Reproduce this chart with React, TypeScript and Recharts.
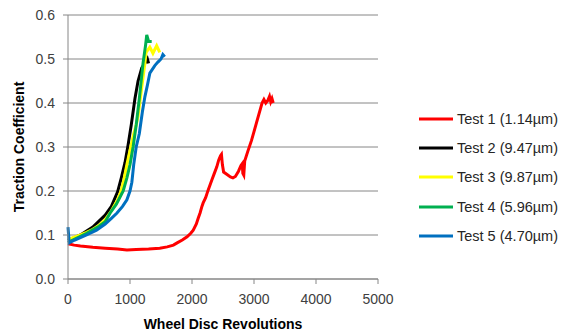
import React from 'react';
import { LineChart, Line, XAxis, YAxis, CartesianGrid, Label } from 'recharts';

const xTicks = [0, 1000, 2000, 3000, 4000, 5000];
const yTicks = [0, 0.1, 0.2, 0.3, 0.4, 0.5, 0.6];

const seriesNames = ['Test 1 (1.14µm)', 'Test 2 (9.47µm)', 'Test 3 (9.87µm)', 'Test 4 (5.96µm)', 'Test 5 (4.70µm)'];
const seriesColors = ['#FF0000', '#000000', '#FFFF00', '#00B050', '#0070C0'];

const test1Rev = [0, 100, 200, 400, 600, 800, 950, 1100, 1300, 1480, 1600, 1700, 1760, 1850, 1920, 1980, 2020, 2070, 2100, 2130, 2160, 2180, 2220, 2260, 2320, 2360, 2400, 2430, 2460, 2475, 2490, 2510, 2560, 2620, 2660, 2700, 2750, 2790, 2810, 2820, 2835, 2850, 2900, 2960, 3000, 3060, 3100, 3130, 3160, 3190, 3220, 3250, 3270, 3290, 3310];
const test1Tc = [0.08, 0.077, 0.075, 0.072, 0.07, 0.068, 0.066, 0.067, 0.068, 0.07, 0.073, 0.077, 0.082, 0.089, 0.096, 0.104, 0.111, 0.125, 0.138, 0.15, 0.165, 0.173, 0.185, 0.202, 0.225, 0.24, 0.255, 0.27, 0.28, 0.283, 0.26, 0.243, 0.238, 0.232, 0.23, 0.233, 0.245, 0.258, 0.262, 0.24, 0.236, 0.268, 0.29, 0.315, 0.335, 0.365, 0.385, 0.4, 0.408, 0.4, 0.405, 0.415, 0.403, 0.41, 0.4];

const test2Rev = [0, 200, 400, 600, 700, 800, 860, 920, 970, 1020, 1080, 1130, 1190, 1240, 1280, 1300];
const test2Tc = [0.088, 0.1, 0.118, 0.145, 0.165, 0.198, 0.23, 0.265, 0.305, 0.35, 0.41, 0.45, 0.48, 0.49, 0.5, 0.49];

const test3Rev = [0, 100, 200, 300, 400, 500, 600, 700, 800, 855, 900, 950, 1011, 1060, 1100, 1130, 1190, 1240, 1260, 1320, 1370, 1430, 1480];
const test3Tc = [0.09, 0.095, 0.1, 0.106, 0.113, 0.122, 0.135, 0.155, 0.18, 0.2, 0.225, 0.26, 0.3, 0.33, 0.35, 0.37, 0.436, 0.49, 0.515, 0.527, 0.513, 0.53, 0.515];

const test4Rev = [0, 100, 200, 300, 400, 500, 600, 680, 780, 890, 950, 1000, 1050, 1100, 1150, 1210, 1250, 1270, 1300, 1350];
const test4Tc = [0.083, 0.09, 0.097, 0.104, 0.112, 0.12, 0.13, 0.15, 0.17, 0.2, 0.23, 0.26, 0.3, 0.35, 0.41, 0.49, 0.53, 0.555, 0.54, 0.54];

const test5Rev = [0, 20, 100, 200, 300, 460, 600, 700, 790, 880, 950, 1000, 1030, 1060, 1100, 1150, 1200, 1240, 1280, 1320, 1400, 1450, 1500, 1530, 1560];
const test5Tc = [0.118, 0.082, 0.088, 0.094, 0.1, 0.111, 0.125, 0.138, 0.15, 0.165, 0.18, 0.2, 0.22, 0.26, 0.3, 0.33, 0.38, 0.414, 0.44, 0.468, 0.485, 0.493, 0.5, 0.51, 0.505];

const zip = (xs: number[], ys: number[]) => xs.map((x, i) => ({ x, y: ys[i] }));

const series = [
  zip(test1Rev, test1Tc),
  zip(test2Rev, test2Tc),
  zip(test3Rev, test3Tc),
  zip(test4Rev, test4Tc),
  zip(test5Rev, test5Tc),
];

const font = '"Liberation Sans", Arial, sans-serif';
const gray = '#868686';

// legend sits to the right of the plot, like the excel one
const LegendBox = () => (
  <div style={{ position: 'absolute', left: 419, top: 104, fontFamily: font, fontSize: 14.5, color: '#262626' }}>
    {seriesNames.map((name, i) => (
      <div key={name} style={{ height: 29.3, display: 'flex', alignItems: 'center' }}>
        <svg width={34} height={4} style={{ display: 'block' }}>
          <line x1={0} y1={2} x2={34} y2={2} stroke={seriesColors[i]} strokeWidth={3} />
        </svg>
        <span style={{ marginLeft: 4, whiteSpace: 'nowrap' }}>{name}</span>
      </div>
    ))}
  </div>
);

export default function App() {
  return (
    <div style={{ position: 'absolute', left: 0, top: 0, width: 562, height: 335, background: '#fff' }}>
      <LineChart width={562} height={335} margin={{ top: 15, right: 184, left: 0, bottom: 26 }}>
        <CartesianGrid vertical={false} stroke={gray} strokeWidth={1} />
        <XAxis
          type="number"
          dataKey="x"
          domain={[0, 5000]}
          ticks={xTicks}
          height={30}
          stroke={gray}
          tickSize={5}
          tickMargin={10}
          tick={{ fill: '#404040', fontSize: 14, fontFamily: font }}
          interval={0}
        >
          <Label
            value="Wheel Disc Revolutions"
            position="bottom"
            offset={10}
            style={{ fontWeight: 'bold', fontSize: 14, fontFamily: font, fill: '#000' }}
          />
        </XAxis>
        <YAxis
          type="number"
          dataKey="y"
          domain={[0, 0.6]}
          ticks={yTicks}
          width={68}
          stroke={gray}
          tickSize={5}
          tickMargin={8}
          tickFormatter={(v: number) => v.toFixed(1)}
          tick={{ fill: '#404040', fontSize: 14, fontFamily: font }}
          interval={0}
        >
          <Label
            content={() => (
              <text
                x={19}
                y={147}
                transform="rotate(-90 19 147)"
                textAnchor="middle"
                dominantBaseline="central"
                style={{ fontWeight: 'bold', fontSize: 14, fontFamily: font, fill: '#000' }}
              >
                Traction Coefficient
              </text>
            )}
          />
        </YAxis>
        {series.map((d, i) => (
          <Line
            key={seriesNames[i]}
            data={d}
            dataKey="y"
            name={seriesNames[i]}
            type="linear"
            stroke={seriesColors[i]}
            strokeWidth={3}
            dot={false}
            isAnimationActive={false}
          />
        ))}
      </LineChart>
      <LegendBox />
    </div>
  );
}
